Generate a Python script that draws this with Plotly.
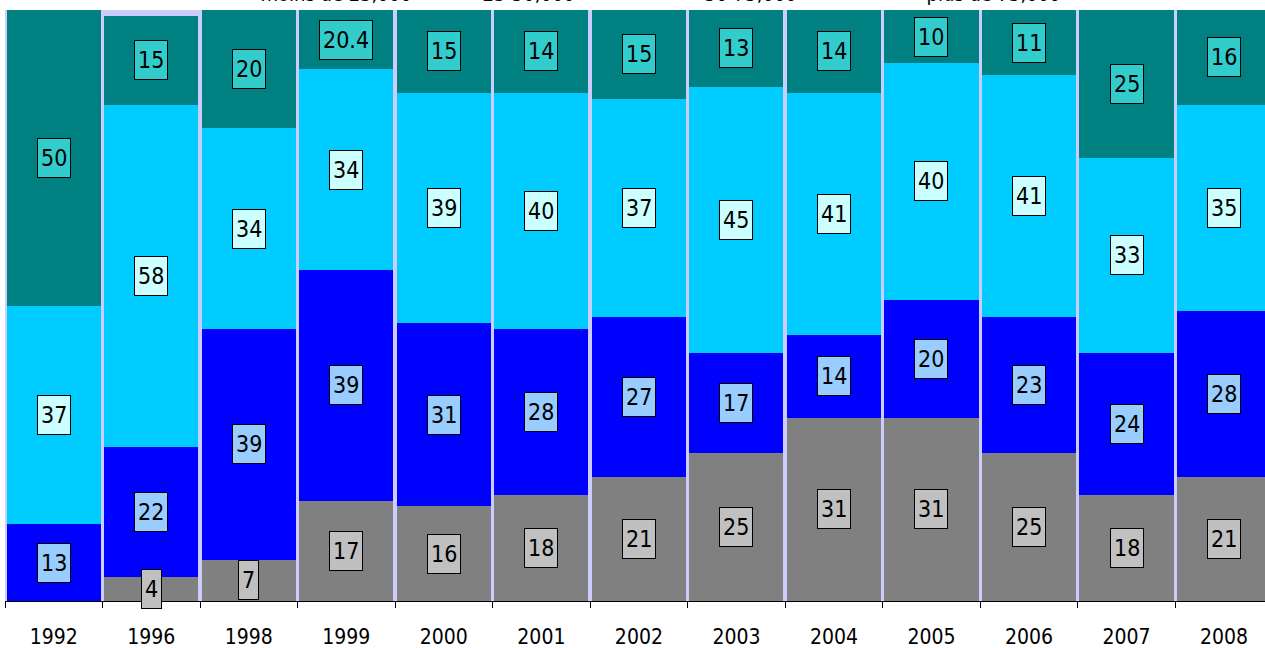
import plotly.graph_objects as go

# Shares by income bracket, per survey year (percent)
years = ["1992", "1996", "1998", "1999", "2000", "2001", "2002",
         "2003", "2004", "2005", "2006", "2007", "2008"]
series_names = ["moins de 25,000", "25-50,000", "50-75,000", "plus de 75,000"]
low = [0, 4, 7, 17, 16, 18, 21, 25, 31, 31, 25, 18, 21]
mid_low = [13, 22, 39, 39, 31, 28, 27, 17, 14, 20, 23, 24, 28]
mid_high = [37, 58, 34, 34, 39, 40, 37, 45, 41, 40, 41, 33, 35]
high = [50, 15, 20, 20.4, 15, 14, 15, 13, 14, 10, 11, 25, 16]

bar_colors = ["#808080", "#0000ff", "#00ccff", "#008080"]
label_fills = ["#c0c0c0", "#99ccff", "#ccffff", "#33cccc"]

FONT = "DejaVu Sans Condensed, DejaVu Sans, sans-serif"
Y_MAX = 100

fig = go.Figure()
all_series = [low, mid_low, mid_high, high]
for name, vals, col in zip(series_names, all_series, bar_colors):
    fig.add_trace(go.Bar(x=years, y=vals, name=name, marker_color=col,
                         marker_line_width=0))

# value boxes centred on the visible part of each segment
# (x given as category index so numeric-looking year names are not misread)
annotations = []
base = [0.0] * len(years)
for vals, fill in zip(all_series, label_fills):
    for i, v in enumerate(vals):
        lo = min(base[i], Y_MAX)
        hi = min(base[i] + v, Y_MAX)
        if v > 0 and hi > lo:
            annotations.append(dict(
                x=i, y=(lo + hi) / 2, xref="x", yref="y",
                text=f"{v:g}", showarrow=False,
                font=dict(family=FONT, size=23, color="black"),
                height=32, borderpad=3,
                bgcolor=fill, bordercolor="black", borderwidth=1,
            ))
        base[i] += v

fig.update_layout(
    barmode="stack",
    bargap=0.035,
    width=1265, height=648,
    margin=dict(l=5, r=0, t=10, b=47, autoexpand=False),
    paper_bgcolor="white",
    plot_bgcolor="#ccccff",
    font=dict(family=FONT, color="black"),
    annotations=annotations,
    showlegend=True,
    legend=dict(orientation="h", x=0.171, xanchor="left", y=0.9955, yanchor="bottom",
                entrywidth=177, entrywidthmode="pixels",
                font=dict(family=FONT, size=20, color="black"),
                bgcolor="rgba(0,0,0,0)", traceorder="normal"),
    xaxis=dict(type="category", range=[-0.5, 12.42], showgrid=False,
               showline=True, linecolor="black", linewidth=1,
               ticks="outside", tickson="boundaries", ticklen=6,
               tickcolor="black", tickfont=dict(family=FONT, size=21, color="black"),
               ticklabelstandoff=17, zeroline=False),
    yaxis=dict(range=[0, Y_MAX], visible=False, showgrid=False, zeroline=False),
)

fig.write_html("out.html")
